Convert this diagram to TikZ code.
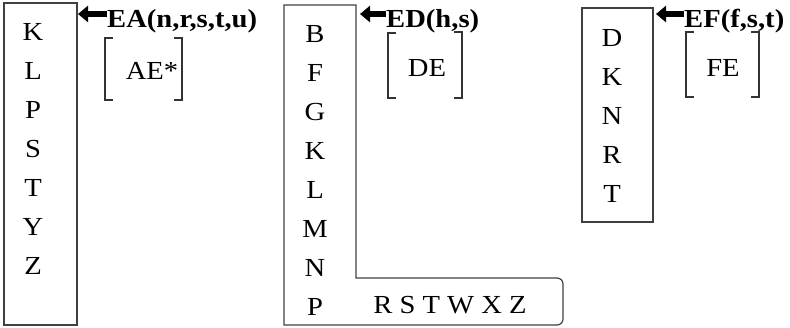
\documentclass[tikz,border=0pt]{standalone}
\usepackage{fontspec}
\setmainfont[FakeStretch=1.1]{Liberation Serif}
\usepackage{tikz}
\usetikzlibrary{calc, arrows.meta}
\tikzstyle{every node}=[font=\fontsize{26}{30}\selectfont, inner sep=0pt]
\tikzset{
	boite/.style={draw=black!75, line width=1.2pt},
	crochet/.style={draw=black!80, line width=1.6pt},
	fleche/.style={line width=6pt, -{Triangle[length=10pt,width=16pt]}},
	lettre/.style={anchor=base},
	titre/.style={anchor=base west, font=\fontsize{26}{30}\selectfont\bfseries}
}

\begin{document}
\begin{tikzpicture}[x=1pt, y=-1pt]
	\useasboundingbox (0,0) rectangle (790,328);
	
	% boites
	\draw[boite] (4,3) rectangle (77,325);
	\draw[boite] (450,325) -- (284,325) -- (284,5) -- (356,5) -- (356,278) [rounded corners=6pt] -- (563,278) -- (563,325) -- (450,325);
	\draw[boite] (582,8) rectangle (653,222);
	
	% lettres
	\foreach \l [count=\i] in {K,L,P,S,T,Y,Z}
		\node[lettre] (ka\i) at (33,41+38.9*\i-38.9) {\l};
	\foreach \l [count=\i] in {B,F,G,K,L,M,N,P}
		\node[lettre] (kd\i) at (315,43+38.9*\i-38.9) {\l};
	\foreach \l [count=\i] in {D,K,N,R,T}
		\node[lettre] (kf\i) at (612,47+38.8*\i-38.8) {\l};
	\node[lettre] (kdbas) at (450,314) {R S T W X Z};
	
	% titres
	\node[titre] (ea) at (107,28) {EA(n,r,s,t,u)};
	\node[titre] (ed) at (386,28) {ED(h,s)};
	\node[titre] (ef) at (684,28) {EF(f,s,t)};
	
	\coordinate (eapt) at (78,14);
	\coordinate (edpt) at (360,14);
	\coordinate (efpt) at (656,14);
	\draw[fleche] (eapt -| ea.west) -- (eapt);
	\draw[fleche] (edpt -| ed.west) -- (edpt);
	\draw[fleche] (efpt -| ef.west) -- (efpt);
	
	% crochets
	\node[lettre] (ae) at (152,80) {AE*};
	\node[lettre] (de) at (427,77) {DE};
	\node[lettre] (fe) at (723,77) {FE};
	
	\draw[crochet] (113,38) -- (105,38) -- (105,100) -- (113,100);
	\draw[crochet] (174,38) -- (182,38) -- (182,100) -- (174,100);
	\draw[crochet] (396,33) -- (388,33) -- (388,98) -- (396,98);
	\draw[crochet] (454,32) -- (462,32) -- (462,98) -- (454,98);
	\draw[crochet] (694,32) -- (686,32) -- (686,97) -- (694,97);
	\draw[crochet] (751,32) -- (759,32) -- (759,97) -- (751,97);
\end{tikzpicture}
\end{document}
